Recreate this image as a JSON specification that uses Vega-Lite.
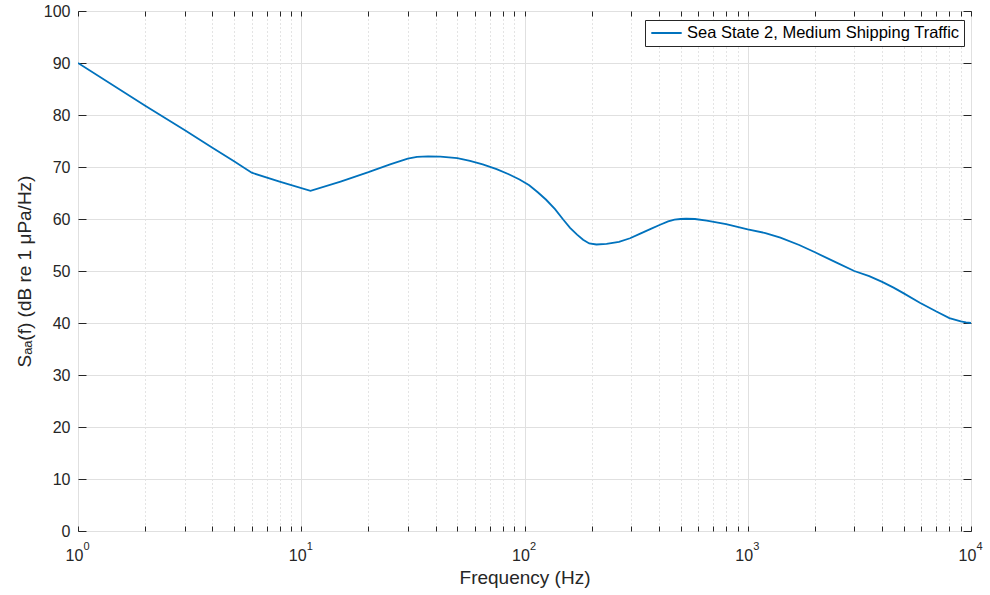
{
  "$schema": "https://vega.github.io/schema/vega-lite/v6.json",
  "width": 893,
  "height": 520,
  "autosize": {"type": "none"},
  "padding": {"left": 78, "top": 11, "right": 19, "bottom": 64},
  "background": "white",
  "config": {
    "view": {"stroke": "#262626", "strokeWidth": 1},
    "font": "Liberation Sans",
    "axis": {
      "labelFont": "Liberation Sans",
      "titleFont": "Liberation Sans",
      "labelColor": "#262626",
      "titleColor": "#262626",
      "tickColor": "#262626",
      "labelFontSize": 16,
      "titleFontSize": 19,
      "titleFontWeight": "normal",
      "domain": false
    }
  },
  "datasets": {
    "curve": [
      {"f": 1, "s": 90}, {"f": 2, "s": 81.8}, {"f": 3, "s": 77.1}, {"f": 4, "s": 73.7},
      {"f": 5, "s": 71.1}, {"f": 6, "s": 68.9}, {"f": 8, "s": 67.2}, {"f": 11, "s": 65.4},
      {"f": 15, "s": 67.2}, {"f": 20, "s": 69.0}, {"f": 25, "s": 70.5}, {"f": 30, "s": 71.6},
      {"f": 33, "s": 71.95}, {"f": 37, "s": 72.05}, {"f": 42, "s": 72.0}, {"f": 50, "s": 71.7},
      {"f": 57, "s": 71.2}, {"f": 65, "s": 70.5}, {"f": 75, "s": 69.6}, {"f": 85, "s": 68.6},
      {"f": 95, "s": 67.6}, {"f": 105, "s": 66.5}, {"f": 115, "s": 65.1}, {"f": 125, "s": 63.7},
      {"f": 137, "s": 61.9}, {"f": 149, "s": 59.9}, {"f": 160, "s": 58.3}, {"f": 172, "s": 57.0},
      {"f": 183, "s": 56.0}, {"f": 195, "s": 55.3}, {"f": 210, "s": 55.1}, {"f": 233, "s": 55.2},
      {"f": 265, "s": 55.6}, {"f": 297, "s": 56.3}, {"f": 330, "s": 57.2}, {"f": 370, "s": 58.15},
      {"f": 405, "s": 58.9}, {"f": 440, "s": 59.55}, {"f": 470, "s": 59.9}, {"f": 500, "s": 60.0},
      {"f": 530, "s": 60.05}, {"f": 580, "s": 60.0}, {"f": 655, "s": 59.7}, {"f": 800, "s": 59.0},
      {"f": 1000, "s": 58.0}, {"f": 1200, "s": 57.3}, {"f": 1400, "s": 56.4}, {"f": 1700, "s": 55.0},
      {"f": 2000, "s": 53.6}, {"f": 2500, "s": 51.6}, {"f": 3000, "s": 50.0}, {"f": 3500, "s": 49.0},
      {"f": 4000, "s": 47.9}, {"f": 4500, "s": 46.8}, {"f": 5000, "s": 45.7}, {"f": 5900, "s": 43.9},
      {"f": 7000, "s": 42.2}, {"f": 8000, "s": 40.95}, {"f": 9000, "s": 40.3}, {"f": 9500, "s": 40.1},
      {"f": 10000, "s": 40.0}
    ],
    "exponents": [
      {"f": 1, "e": "0"}, {"f": 10, "e": "1"}, {"f": 100, "e": "2"}, {"f": 1000, "e": "3"}, {"f": 10000, "e": "4"}
    ]
  },
  "layer": [
    {
      "data": {"name": "curve"},
      "mark": {"type": "line", "strokeWidth": 1.8, "clip": true},
      "encoding": {
        "x": {
          "field": "f",
          "type": "quantitative",
          "scale": {"type": "log", "domain": [1, 10000], "nice": false},
          "axis": {
            "orient": "bottom",
            "values": [1, 2, 3, 4, 5, 6, 7, 8, 9, 10, 20, 30, 40, 50, 60, 70, 80, 90, 100, 200, 300, 400, 500, 600, 700, 800, 900, 1000, 2000, 3000, 4000, 5000, 6000, 7000, 8000, 9000, 10000],
            "labelExpr": "indexof([1,10,100,1000,10000], datum.value) >= 0 ? '10' : ''",
            "labelOverlap": false,
            "labelFlush": false,
            "labelBaseline": "alphabetic",
            "labelPadding": 34,
            "labelOffset": -4,
            "tickSize": -5,
            "grid": true,
            "gridColor": {"condition": {"test": "indexof([1,10,100,1000,10000], datum.value) >= 0", "value": "#e0e0e0"}, "value": "#c8c8c8"},
            "gridDash": {"condition": {"test": "indexof([1,10,100,1000,10000], datum.value) >= 0", "value": []}, "value": [1, 3]},
            "title": "Frequency (Hz)",
            "titlePadding": 5
          }
        },
        "y": {
          "field": "s",
          "type": "quantitative",
          "scale": {"domain": [0, 100], "nice": false},
          "axis": {
            "orient": "left",
            "values": [0, 10, 20, 30, 40, 50, 60, 70, 80, 90, 100],
            "tickSize": -8,
            "labelPadding": 16,
            "grid": true,
            "gridColor": "#e0e0e0",
            "title": "Sₐₐ(f) (dB re 1 μPa/Hz)",
            "titlePadding": 9
          }
        },
        "color": {
          "datum": "Sea State 2, Medium Shipping Traffic",
          "type": "nominal",
          "scale": {"range": ["#0072BD"]},
          "legend": {
            "title": null,
            "orient": "none",
            "legendX": 567,
            "legendY": 9,
            "strokeColor": "#262626",
            "fillColor": "white",
            "padding": 4,
            "cornerRadius": 0,
            "symbolType": "M-1.9,0H1.9",
            "symbolSize": 256,
            "symbolStrokeWidth": 2,
            "symbolOffset": 8.5,
            "labelOffset": 11.5,
            "labelFont": "Liberation Sans",
            "labelFontSize": 16.5,
            "labelColor": "#000000",
            "labelLimit": 400
          }
        }
      }
    },
    {
      "data": {"name": "curve"},
      "mark": {"type": "line", "opacity": 0},
      "encoding": {
        "x": {
          "field": "f",
          "type": "quantitative",
          "scale": {"type": "log", "domain": [1, 10000], "nice": false},
          "axis": {
            "orient": "top",
            "values": [1, 2, 3, 4, 5, 6, 7, 8, 9, 10, 20, 30, 40, 50, 60, 70, 80, 90, 100, 200, 300, 400, 500, 600, 700, 800, 900, 1000, 2000, 3000, 4000, 5000, 6000, 7000, 8000, 9000, 10000],
            "labels": false,
            "grid": false,
            "tickSize": -5,
            "title": null
          }
        },
        "y": {
          "field": "s",
          "type": "quantitative",
          "scale": {"domain": [0, 100], "nice": false},
          "axis": {
            "orient": "right",
            "values": [0, 10, 20, 30, 40, 50, 60, 70, 80, 90, 100],
            "labels": false,
            "grid": false,
            "tickSize": -8,
            "title": null
          }
        }
      }
    },
    {
      "data": {"name": "exponents"},
      "mark": {"type": "text", "align": "left", "baseline": "alphabetic", "dx": 5.5, "dy": 19, "fontSize": 11, "font": "Liberation Sans", "color": "#262626", "clip": false},
      "encoding": {
        "x": {"field": "f", "type": "quantitative", "axis": null},
        "y": {"datum": 0, "type": "quantitative", "axis": null},
        "text": {"field": "e"}
      }
    }
  ],
  "resolve": {"axis": {"x": "independent", "y": "independent"}}
}
